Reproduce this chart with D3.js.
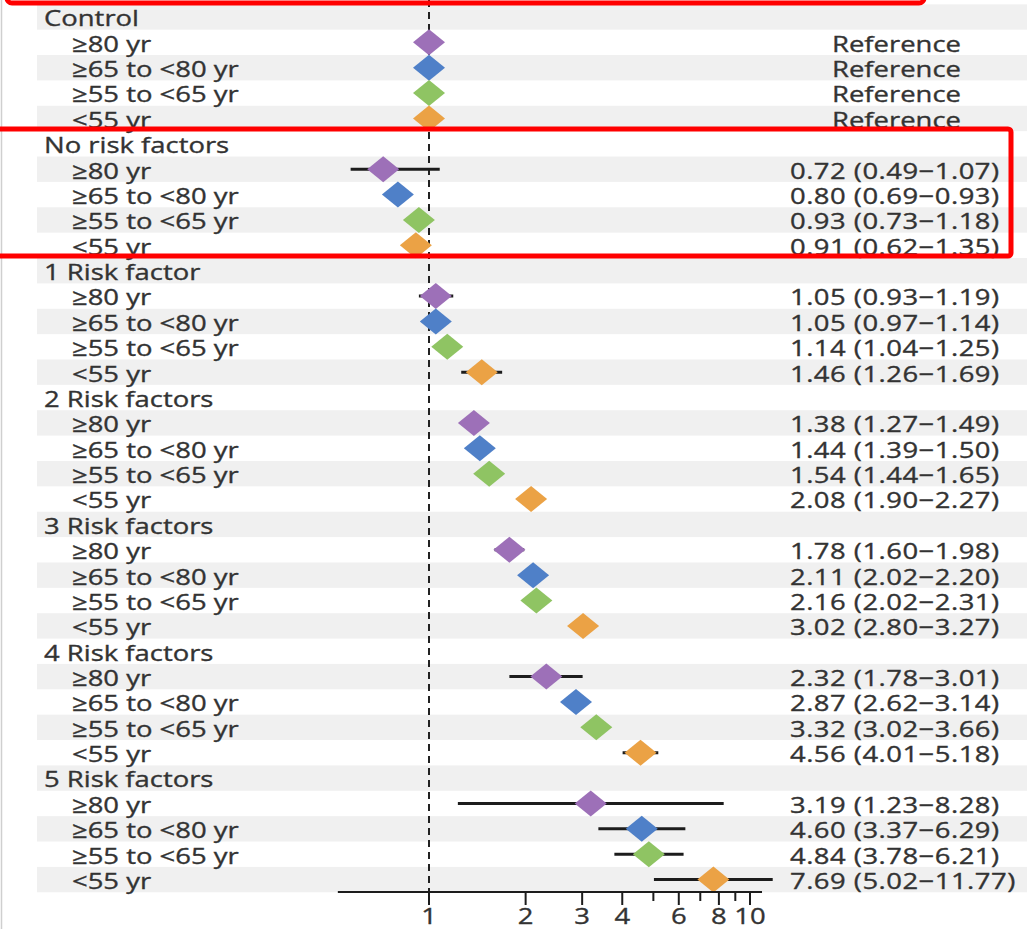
<!DOCTYPE html>
<html>
<head>
<meta charset="utf-8">
<script src="https://cdn.jsdelivr.net/npm/d3@7"></script>
<style>
  body { margin: 0; background: #fff; }
  svg { display: block; }
  text { font-family: "Open Sans", sans-serif; }
</style>
</head>
<body>
<svg></svg>
<script>
// groups and age bands
const groups = ["Control", "No risk factors", "1 Risk factor", "2 Risk factors", "3 Risk factors", "4 Risk factors", "5 Risk factors"];
const ages = ["≥80 yr", "≥65 to <80 yr", "≥55 to <65 yr", "<55 yr"];
const ageColors = ["#9d70b8", "#4f80c8", "#8fc463", "#eba245"];

// hazard ratios per group (same order as ages), Control is reference
const hr = [
    [1, 1, 1, 1],
    [0.72, 0.80, 0.93, 0.91],
    [1.05, 1.05, 1.14, 1.46],
    [1.38, 1.44, 1.54, 2.08],
    [1.78, 2.11, 2.16, 3.02],
    [2.32, 2.87, 3.32, 4.56],
    [3.19, 4.60, 4.84, 7.69]
];
const lower = [
    [null, null, null, null],
    [0.49, 0.69, 0.73, 0.62],
    [0.93, 0.97, 1.04, 1.26],
    [1.27, 1.39, 1.44, 1.90],
    [1.60, 2.02, 2.02, 2.80],
    [1.78, 2.62, 3.02, 4.01],
    [1.23, 3.37, 3.78, 5.02]
];
const upper = [
    [null, null, null, null],
    [1.07, 0.93, 1.18, 1.35],
    [1.19, 1.14, 1.25, 1.69],
    [1.49, 1.50, 1.65, 2.27],
    [1.98, 2.20, 2.31, 3.27],
    [3.01, 3.14, 3.66, 5.18],
    [8.28, 6.29, 6.21, 11.77]
];
// in the figure the "No risk factors" whiskers are drawn differently from the printed CIs
const noRiskWhiskers = [[0.57, 1.08], null, null, null];
const tickValues = [1, 2, 3, 4, 6, 8, 10];
const minorTicks = [5, 7, 9];
const axisExtent = [0.52, 10.9];

const width = 1033, height = 929;
const svg = d3.select("svg").attr("width", width).attr("height", height);

const x = d3.scaleLog().domain([1, 10]).range([429, 750]);
const rowH = 25.37, firstRowY = 17;

// flatten into rows: header + 4 age rows per group
const rows = [];
groups.forEach((g, gi) => {
    rows.push({ type: "header", label: g });
    ages.forEach((a, ai) => {
        let w = lower[gi][ai] == null ? null : [lower[gi][ai], upper[gi][ai]];
        if (gi === 1) w = noRiskWhiskers[ai];
        rows.push({ type: "row", label: a, gi, ai, hr: hr[gi][ai], lo: lower[gi][ai], hi: upper[gi][ai], whisker: w });
    });
});
const y = i => firstRowY + i * rowH;

// stripes
svg.append("g").selectAll("rect")
    .data(rows.map((r, i) => i).filter(i => i % 2 === 0))
    .join("rect")
    .attr("x", 37).attr("width", 990)
    .attr("y", i => y(i) - rowH / 2).attr("height", rowH)
    .attr("fill", "#f0f0f0");

// page border line on the left
svg.append("line").attr("x1", 1.5).attr("x2", 1.5).attr("y1", 0).attr("y2", height)
    .attr("stroke", "#cfcfcf").attr("stroke-width", 1.5);

const axisY = 892;

// reference line at 1
svg.append("line")
    .attr("x1", x(1)).attr("x2", x(1))
    .attr("y1", 0).attr("y2", axisY)
    .attr("stroke", "#222").attr("stroke-width", 2)
    .attr("stroke-dasharray", "7,5");

const sx = 1.22;
function label(txt, tx, ty, anchor, spacing) {
    svg.append("text")
        .attr("transform", `translate(${tx},${ty + 1.5}) scale(${sx},1)`)
        .attr("dy", "0.35em")
        .attr("text-anchor", anchor || "start")
        .attr("font-size", 22.5)
        .attr("letter-spacing", spacing || 0)
        .attr("fill", "#333")
        .attr("stroke", "#333").attr("stroke-width", 0.35)
        .text(txt);
}

rows.forEach((r, i) => {
    label(r.label, r.type === "header" ? 44 : 72, y(i));
});

// confidence intervals
const dataRows = rows.map((r, i) => Object.assign({ i }, r)).filter(r => r.type === "row");
svg.append("g").selectAll("line")
    .data(dataRows.filter(d => d.whisker))
    .join("line")
    .attr("x1", d => x(d.whisker[0])).attr("x2", d => x(d.whisker[1]))
    .attr("y1", d => y(d.i)).attr("y2", d => y(d.i))
    .attr("stroke", "#1c1c1c").attr("stroke-width", 3);

// diamonds
const dw = 16, dh = 13;
svg.append("g").selectAll("path")
    .data(dataRows)
    .join("path")
    .attr("d", d => {
        const cx = x(d.hr), cy = y(d.i);
        return `M${cx - dw},${cy}L${cx},${cy - dh}L${cx + dw},${cy}L${cx},${cy + dh}Z`;
    })
    .attr("fill", d => ageColors[d.ai]);

// right-hand text
const fmt = d3.format(".2f");
dataRows.forEach(d => {
    if (d.lo == null) label("Reference", 832, y(d.i));
    else label(`${fmt(d.hr)} (${fmt(d.lo)}−${fmt(d.hi)})`, 790, y(d.i), "start", 0.4);
});

// axis
svg.append("line")
    .attr("x1", x(axisExtent[0])).attr("x2", x(axisExtent[1]))
    .attr("y1", axisY).attr("y2", axisY)
    .attr("stroke", "#1c1c1c").attr("stroke-width", 2);
svg.append("g").selectAll("line")
    .data(tickValues)
    .join("line")
    .attr("x1", d => x(d)).attr("x2", d => x(d))
    .attr("y1", axisY).attr("y2", axisY + 13)
    .attr("stroke", "#1c1c1c").attr("stroke-width", 2);
svg.append("g").selectAll("line")
    .data(minorTicks)
    .join("line")
    .attr("x1", d => x(d)).attr("x2", d => x(d))
    .attr("y1", axisY).attr("y2", axisY + 9)
    .attr("stroke", "#1c1c1c").attr("stroke-width", 2);
tickValues.forEach(t => label(String(t), x(t), 915, "middle"));

// red highlight boxes
svg.append("rect")
    .attr("x", 7).attr("y", -40).attr("width", 917).attr("height", 43)
    .attr("rx", 5).attr("fill", "none").attr("stroke", "#ff0000").attr("stroke-width", 5);
svg.append("rect")
    .attr("x", -4).attr("y", 129).attr("width", 1015).attr("height", 127)
    .attr("rx", 3).attr("fill", "none").attr("stroke", "#ff0000").attr("stroke-width", 5);
</script>
</body>
</html>
